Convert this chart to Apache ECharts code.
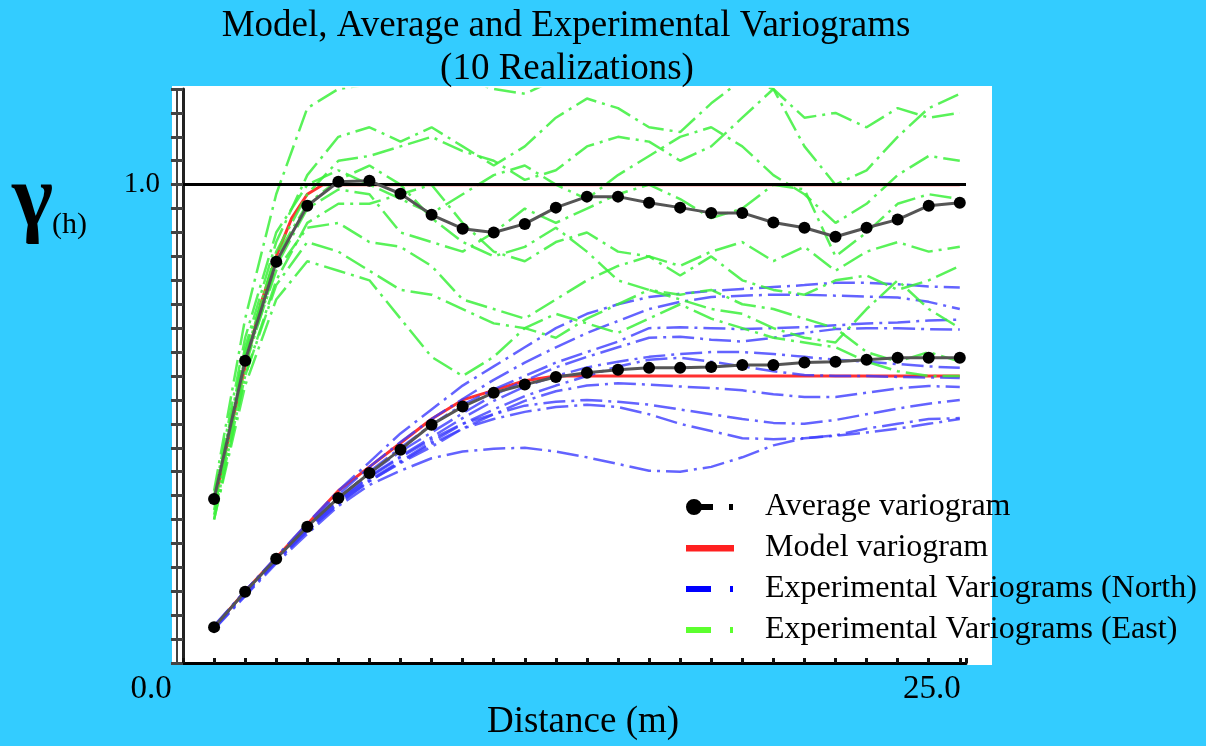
<!DOCTYPE html>
<html>
<head>
<meta charset="utf-8">
<script src="https://cdn.jsdelivr.net/npm/echarts@6/dist/echarts.min.js"></script>
<style>
  html, body { margin: 0; padding: 0; background: #33ccff; }
  #chart { width: 1206px; height: 746px; }
</style>
</head>
<body>
<div id="chart"></div>
<script>
// Lag distances (m)
const lags = [1, 2, 3, 4, 5, 6, 7, 8, 9, 10, 11, 12, 13, 14, 15, 16, 17, 18, 19, 20, 21, 22, 23, 24, 25];

// Average of the 10 realizations, East and North directions
const averageEast = [0.343, 0.632, 0.839, 0.956, 1.006, 1.008, 0.981, 0.937, 0.908, 0.900, 0.918, 0.952, 0.975,
  0.975, 0.962, 0.952, 0.941, 0.941, 0.921, 0.910, 0.891, 0.910, 0.927, 0.956, 0.962];
const averageNorth = [0.075, 0.149, 0.218, 0.285, 0.345, 0.397, 0.446, 0.498, 0.536, 0.565, 0.582, 0.598, 0.607,
  0.613, 0.617, 0.617, 0.619, 0.623, 0.623, 0.628, 0.630, 0.634, 0.638, 0.638, 0.638];

// Model variograms as [distance, gamma] pairs
const modelEast = [[1, 0.33], [1.5, 0.48], [2, 0.62], [2.5, 0.75], [3, 0.85], [3.5, 0.93], [4, 0.98], [4.5, 1.0], [25, 1.0]];
const modelNorth = [[1, 0.075], [2, 0.15], [3, 0.22], [4, 0.29], [5, 0.36], [6, 0.41], [7, 0.46], [8, 0.51],
  [9, 0.55], [10, 0.57], [11, 0.59], [12, 0.60], [25, 0.60]];

// Experimental variograms of each realization, North direction
const northRealizations = [
  [.075,.150,.222,.292,.360,.420,.480,.530,.580,.620,.660,.700,.730,.750,.765,.772,.778,.782,.786,.790,.795,.795,.792,.787,.785],
  [.076,.150,.220,.288,.352,.410,.462,.510,.552,.592,.628,.660,.690,.715,.740,.755,.765,.768,.770,.770,.768,.766,.764,.755,.740],
  [.072,.146,.216,.282,.342,.400,.450,.498,.540,.572,.600,.628,.650,.672,.700,.702,.700,.698,.700,.702,.706,.710,.712,.716,.718],
  [.075,.150,.220,.286,.346,.396,.442,.482,.522,.560,.590,.618,.640,.660,.680,.682,.676,.672,.680,.690,.698,.700,.700,.698,.697],
  [.078,.151,.219,.282,.342,.390,.432,.472,.512,.548,.578,.600,.618,.630,.640,.646,.650,.650,.646,.640,.634,.630,.625,.620,.617],
  [.074,.149,.215,.280,.340,.382,.422,.462,.500,.530,.558,.580,.600,.620,.634,.638,.630,.620,.610,.602,.600,.600,.598,.597,.596],
  [.072,.142,.212,.276,.332,.380,.420,.458,.490,.520,.548,.568,.580,.585,.582,.578,.575,.570,.562,.556,.556,.565,.574,.579,.577],
  [.076,.146,.214,.280,.338,.388,.430,.468,.500,.520,.538,.546,.550,.546,.540,.530,.520,.510,.502,.500,.508,.520,.532,.542,.550],
  [.075,.145,.212,.276,.334,.380,.418,.452,.490,.510,.525,.535,.540,.535,.520,.500,.485,.470,.468,.470,.475,.482,.490,.500,.510],
  [.070,.140,.208,.270,.328,.372,.402,.428,.442,.448,.450,.442,.430,.416,.402,.400,.410,.430,.455,.470,.476,.490,.500,.510,.512]
];

// Experimental variograms of each realization, East direction
const eastRealizations = [
  [.36,.72,.98,1.16,1.20,1.21,1.23,1.24,1.22,1.20,1.19,1.22,1.26,1.28,1.25,1.22,1.24,1.27,1.30,1.28,1.26,1.28,1.31,1.30,1.32],
  [.34,.66,.88,1.02,1.10,1.12,1.09,1.12,1.08,1.04,1.08,1.14,1.18,1.16,1.12,1.11,1.17,1.22,1.20,1.14,1.15,1.12,1.16,1.14,1.15],
  [.33,.64,.86,.98,1.05,1.06,1.08,1.10,1.07,1.05,1.01,1.03,1.08,1.10,1.09,1.05,1.08,1.14,1.20,1.08,1.00,1.03,1.10,1.16,1.19],
  [.35,.68,.90,1.00,1.03,1.00,.97,.94,.98,1.02,1.04,1.00,.97,1.02,1.06,1.10,1.12,1.08,1.02,.98,.92,.96,1.02,1.06,1.05],
  [.32,.62,.83,.95,.99,.98,.90,.88,.86,.90,.95,.92,.95,.98,1.00,.97,.93,.95,1.00,.99,.85,.90,.96,.98,.97],
  [.30,.60,.80,.92,.96,.96,.98,1.00,.92,.86,.84,.88,.90,.86,.85,.83,.86,.88,.84,.87,.82,.86,.88,.86,.87],
  [.33,.63,.82,.91,.92,.88,.87,.83,.76,.74,.72,.76,.80,.83,.85,.81,.85,.80,.78,.77,.80,.81,.78,.80,.83],
  [.31,.60,.79,.88,.86,.82,.78,.77,.74,.71,.70,.68,.72,.75,.78,.76,.74,.73,.70,.68,.67,.74,.80,.74,.70],
  [.34,.65,.85,.96,1.01,1.04,1.00,.93,.88,.85,.87,.91,.86,.80,.78,.77,.78,.75,.74,.72,.70,.65,.63,.65,.63],
  [.30,.58,.76,.84,.82,.80,.72,.64,.60,.64,.70,.73,.71,.69,.72,.75,.72,.70,.68,.67,.66,.63,.61,.60,.60]
];

// Axis tick labels that are shown
const xTickValues = [0, 25];
const xTickLabels = ['0.0', '25.0'];
const yTickValues = [1];
const yTickLabels = ['1.0'];

// Sill reference line
const sillLevel = 1;

const NAME_AVG = 'Average variogram';
const NAME_MODEL = 'Model variogram';
const NAME_NORTH = 'Experimental Variograms (North)';
const NAME_EAST = 'Experimental Variograms (East)';

const SERIF = "'Liberation Serif', 'Times New Roman', Times, serif";

const pairs = (values) => lags.map((x, i) => [x, values[i]]);
const expDash = [22, 6, 3, 6];

// Legend icons drawn as 48x16 paths (corner points fix the bounding box)
const box = 'M0,0 L0,0 M48,16 L48,16 ';
const iconAverage = 'path://' + box + 'M0,8 A8,8 0 1,1 16,8 A8,8 0 1,1 0,8 Z M14,5 L27,5 L27,11 L14,11 Z M43,5 L47,5 L47,11 L43,11 Z';
const iconModel = 'path://' + box + 'M0,5 L48,5 L48,11.5 L0,11.5 Z';
const iconDashDot = 'path://' + box + 'M0,5 L25,5 L25,11 L0,11 Z M44,5 L47,5 L47,11 L44,11 Z';

const series = [];

series.push({
  name: NAME_MODEL, type: 'line', data: modelEast, showSymbol: false, z: 2,
  itemStyle: { color: '#ff2020' }, lineStyle: { color: '#ff3030', width: 3 }
});
series.push({
  name: NAME_MODEL, type: 'line', data: modelNorth, showSymbol: false, z: 2,
  itemStyle: { color: '#ff2020' }, lineStyle: { color: '#ff3030', width: 3 }
});

northRealizations.forEach((vals) => {
  series.push({
    name: NAME_NORTH, type: 'line', data: pairs(vals), showSymbol: false, z: 3,
    itemStyle: { color: '#0000ff' },
    lineStyle: { color: '#3c3cff', width: 2.5, type: expDash, opacity: 0.8 }
  });
});

eastRealizations.forEach((vals) => {
  series.push({
    name: NAME_EAST, type: 'line', data: pairs(vals), showSymbol: false, z: 3,
    itemStyle: { color: '#5cff2e' },
    lineStyle: { color: '#3cf03c', width: 2.5, type: expDash, opacity: 0.85 }
  });
});

series.push({
  name: NAME_AVG, type: 'line', data: pairs(averageEast), z: 5,
  symbol: 'circle', symbolSize: 12, showAllSymbol: true,
  itemStyle: { color: '#000' }, lineStyle: { color: '#555', width: 3 },
  markLine: {
    silent: true, symbol: ['none', 'none'], label: { show: false },
    lineStyle: { color: '#000', width: 3, type: 'solid' },
    data: [{ yAxis: sillLevel }]
  }
});
series.push({
  name: NAME_AVG, type: 'line', data: pairs(averageNorth), z: 5,
  symbol: 'circle', symbolSize: 12, showAllSymbol: true,
  itemStyle: { color: '#000' }, lineStyle: { color: '#555', width: 3 }
});

series.forEach((s) => { s.emphasis = { disabled: true }; s.silent = true; });

const chart = echarts.init(document.getElementById('chart'), null, { renderer: 'canvas' });

chart.setOption({
  animation: false,
  backgroundColor: '#33ccff',
  grid: { left: 183, top: 89, width: 783, height: 574 },
  xAxis: {
    type: 'value', min: 0, max: 25.2, interval: 1,
    axisLine: { show: true, lineStyle: { color: '#000', width: 3 } },
    axisTick: { show: true, inside: true, length: 5, lineStyle: { color: '#111', width: 3 } },
    splitLine: { show: false },
    axisLabel: {
      margin: 10, fontFamily: SERIF, fontSize: 33, color: '#000',
      formatter: (v) => {
        const i = xTickValues.findIndex((t) => Math.abs(t - v) < 1e-6);
        if (i < 0) return '';
        return (i === 0 ? '{a|' : '{b|') + xTickLabels[i] + '}';
      },
      rich: {
        a: { fontFamily: SERIF, fontSize: 33, color: '#000', padding: [0, 64, 0, 0] },
        b: { fontFamily: SERIF, fontSize: 33, color: '#000', padding: [0, 56, 0, 0] }
      }
    }
  },
  yAxis: [
    {
      type: 'value', min: 0, max: 1.2, interval: 0.05, position: 'left',
      axisLine: { show: true, lineStyle: { color: '#222', width: 3 } },
      axisTick: { show: true, length: 12, lineStyle: { color: '#444', width: 3 } },
      splitLine: { show: false },
      axisLabel: {
        margin: 23, fontFamily: SERIF, fontSize: 29, color: '#000', padding: [10, 0, 0, 0],
        formatter: (v) => {
          const i = yTickValues.findIndex((t) => Math.abs(t - v) < 1e-6);
          return i < 0 ? '' : yTickLabels[i];
        }
      }
    },
    {
      type: 'value', min: 0, max: 1.2, position: 'left', offset: 6,
      axisLine: { show: true, lineStyle: { color: '#000', width: 1.5 } },
      axisTick: { show: false }, axisLabel: { show: false }, splitLine: { show: false }
    }
  ],
  legend: {
    orient: 'vertical', left: 681, top: 486,
    itemWidth: 48, itemHeight: 16, itemGap: 9,
    selectedMode: false,
    itemStyle: { borderWidth: 0 },
    textStyle: { fontFamily: SERIF, fontSize: 32, color: '#000', padding: [0, 0, 0, 26] },
    data: [
      { name: NAME_AVG, icon: iconAverage },
      { name: NAME_MODEL, icon: iconModel },
      { name: NAME_NORTH, icon: iconDashDot },
      { name: NAME_EAST, icon: iconDashDot }
    ]
  },
  graphic: [
    { type: 'rect', z: -5, silent: true, shape: { x: 172, y: 86, width: 820, height: 579 }, style: { fill: '#ffffff' } },
    { type: 'text', z: 10, x: 566, y: 26, style: { text: 'Model, Average and Experimental Variograms', fontFamily: SERIF, fontSize: 37, fill: '#000', align: 'center', verticalAlign: 'middle' } },
    { type: 'text', z: 10, x: 567, y: 69, style: { text: '(10 Realizations)', fontFamily: SERIF, fontSize: 37, fill: '#000', align: 'center', verticalAlign: 'middle' } },
    { type: 'text', z: 10, x: 583, y: 722, style: { text: 'Distance (m)', fontFamily: SERIF, fontSize: 37, fill: '#000', align: 'center', verticalAlign: 'middle' } },
    { type: 'text', z: 10, x: 12, y: 202, style: { text: 'γ', fontFamily: SERIF, fontWeight: 'bold', fontSize: 88, fill: '#000', align: 'left', verticalAlign: 'middle' } },
    { type: 'text', z: 10, x: 52, y: 225, style: { text: '(h)', fontFamily: SERIF, fontSize: 30, fill: '#000', align: 'left', verticalAlign: 'middle' } }
  ],
  series: series
});
</script>
</body>
</html>
